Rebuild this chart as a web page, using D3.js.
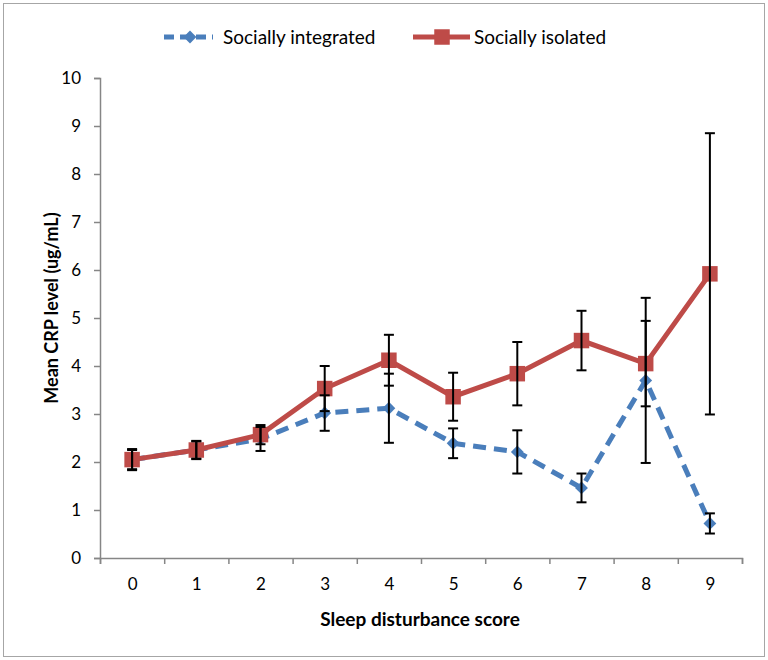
<!DOCTYPE html>
<html>
<head>
<meta charset="utf-8">
<script src="https://cdn.jsdelivr.net/npm/d3@7"></script>
<style>
  body { margin: 0; background: #fff; }
  text { font-family: Lato, "Open Sans", sans-serif; }
</style>
</head>
<body>
<svg id="chart" width="768" height="660"></svg>
<script>
// sleep disturbance score categories
let scores = [0, 1, 2, 3, 4, 5, 6, 7, 8, 9];
let yTicks = [0, 1, 2, 3, 4, 5, 6, 7, 8, 9, 10];

// mean CRP and error (+/-) per group
let integratedMean = [2.05, 2.25, 2.48, 3.02, 3.12, 2.39, 2.21, 1.46, 3.70, 0.72];
let integratedErr  = [0.20, 0.18, 0.25, 0.37, 0.72, 0.31, 0.45, 0.30, 1.72, 0.21];
let isolatedMean   = [2.05, 2.25, 2.57, 3.53, 4.12, 3.36, 3.84, 4.53, 4.05, 5.92];
let isolatedErr    = [0.22, 0.19, 0.20, 0.47, 0.53, 0.50, 0.66, 0.62, 0.89, 2.93];

let seriesNames = ["Socially integrated", "Socially isolated"];

function drawChart() {
    let svg = d3.select("#chart");
    let width = +svg.attr("width");
    let height = +svg.attr("height");
    let padding = { top: 78, right: 26, bottom: 102, left: 100 };

    // outer frame
    svg.append("rect")
        .attr("x", 3.5).attr("y", 3.5)
        .attr("width", width - 7).attr("height", height - 7)
        .attr("fill", "#fff")
        .attr("stroke", "#a6a6a6")
        .attr("stroke-width", 1);

    let xScale = d3.scaleLinear()
                    .domain([-0.5, scores.length - 0.5])
                    .range([padding.left, width - padding.right]);
    let yScale = d3.scaleLinear()
                    .domain([0, 10])
                    .range([height - padding.bottom, padding.top]);

    let axisColor = "#868686";

    // y axis
    let yAxis = d3.axisLeft(yScale).tickValues(yTicks).tickSize(6).tickPadding(13);
    let gy = svg.append("g")
        .attr("transform", "translate(" + padding.left + ",0)")
        .call(yAxis);

    // x axis: tick marks on category boundaries, labels at category centres
    let bounds = d3.range(scores.length + 1).map(i => i - 0.5);
    let gx = svg.append("g")
        .attr("transform", "translate(0," + (height - padding.bottom) + ")")
        .call(d3.axisBottom(xScale).tickValues(bounds).tickFormat("").tickSize(6));
    let gxl = svg.append("g")
        .attr("transform", "translate(0," + (height - padding.bottom) + ")")
        .call(d3.axisBottom(xScale).tickValues(scores).tickFormat(d3.format("d")).tickSize(0).tickPadding(20));
    gxl.select(".domain").remove();

    [gx, gy, gxl].forEach(g => {
        g.selectAll(".domain").attr("stroke", axisColor).attr("stroke-width", 1.5);
        g.selectAll(".tick line").attr("stroke", axisColor).attr("stroke-width", 1.5);
        g.selectAll("text")
            .attr("fill", "#000")
            .style("font-size", "17px")
            .style("font-family", "Lato, sans-serif");
    });

    // axis titles
    svg.append("text")
        .attr("x", 420)
        .attr("y", 626)
        .style("text-anchor", "middle")
        .style("font-size", "19px")
        .style("font-weight", "bold")
        .text("Sleep disturbance score");

    svg.append("text")
        .attr("transform", "rotate(-90)")
        .attr("x", -308)
        .attr("y", 58)
        .style("text-anchor", "middle")
        .style("font-size", "18px")
        .style("font-weight", "bold")
        .text("Mean CRP level (ug/mL)");

    let blue = "#4a7ebb";
    let red = "#be4b48";

    let intData = scores.map((s, i) => ({ x: s, y: integratedMean[i], e: integratedErr[i] }));
    let isoData = scores.map((s, i) => ({ x: s, y: isolatedMean[i], e: isolatedErr[i] }));

    let line = d3.line().x(d => xScale(d.x)).y(d => yScale(d.y));

    // lines
    svg.append("path")
        .datum(intData)
        .attr("d", line)
        .attr("fill", "none")
        .attr("stroke", blue)
        .attr("stroke-width", 5)
        .attr("stroke-dasharray", "13,8");

    svg.append("path")
        .datum(isoData)
        .attr("d", line)
        .attr("fill", "none")
        .attr("stroke", red)
        .attr("stroke-width", 5);

    let diamond = d3.symbol().type(d3.symbolDiamond2).size(105);
    let square = d3.symbol().type(d3.symbolSquare).size(240);

    svg.selectAll(".int-pt")
        .data(intData)
        .enter()
        .append("path")
          .classed("int-pt", true)
          .attr("d", diamond)
          .attr("transform", d => "translate(" + xScale(d.x) + "," + yScale(d.y) + ")")
          .attr("fill", blue);

    svg.selectAll(".iso-pt")
        .data(isoData)
        .enter()
        .append("path")
          .classed("iso-pt", true)
          .attr("d", square)
          .attr("transform", d => "translate(" + xScale(d.x) + "," + yScale(d.y) + ")")
          .attr("fill", red);

    // error bars
    let capW = 5;
    let allErr = intData.concat(isoData);
    let eb = svg.selectAll(".err")
        .data(allErr)
        .enter()
        .append("g")
          .classed("err", true)
          .attr("stroke", "#000")
          .attr("stroke-width", 2);
    eb.append("line")
        .attr("x1", d => xScale(d.x)).attr("x2", d => xScale(d.x))
        .attr("y1", d => yScale(d.y - d.e)).attr("y2", d => yScale(d.y + d.e));
    eb.append("line")
        .attr("x1", d => xScale(d.x) - capW).attr("x2", d => xScale(d.x) + capW)
        .attr("y1", d => yScale(d.y + d.e)).attr("y2", d => yScale(d.y + d.e));
    eb.append("line")
        .attr("x1", d => xScale(d.x) - capW).attr("x2", d => xScale(d.x) + capW)
        .attr("y1", d => yScale(d.y - d.e)).attr("y2", d => yScale(d.y - d.e));

    // legend
    let legY = 37;
    let leg = svg.append("g");
    leg.append("line")
        .attr("x1", 164).attr("x2", 213).attr("y1", legY).attr("y2", legY)
        .attr("stroke", blue).attr("stroke-width", 5).attr("stroke-dasharray", "10,6");
    leg.append("path")
        .attr("d", diamond)
        .attr("transform", "translate(190," + legY + ")")
        .attr("fill", blue);
    leg.append("text")
        .attr("x", 223).attr("y", legY).attr("dy", "0.35em")
        .style("font-size", "19px")
        .text(seriesNames[0]);

    leg.append("line")
        .attr("x1", 413).attr("x2", 470).attr("y1", legY).attr("y2", legY)
        .attr("stroke", red).attr("stroke-width", 5);
    leg.append("path")
        .attr("d", square)
        .attr("transform", "translate(442," + legY + ")")
        .attr("fill", red);
    leg.append("text")
        .attr("x", 474).attr("y", legY).attr("dy", "0.35em")
        .style("font-size", "19px")
        .text(seriesNames[1]);
}

drawChart();
</script>
</body>
</html>
